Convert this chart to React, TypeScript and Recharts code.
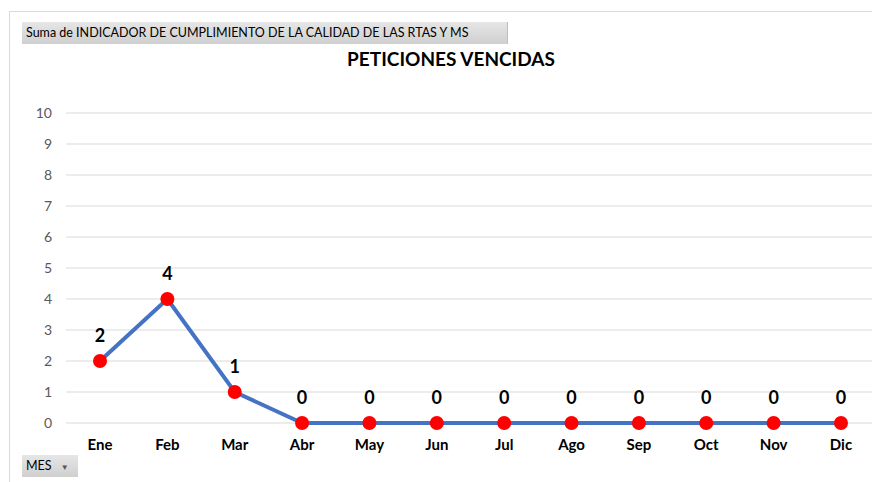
import React from 'react';
import { LineChart, Line, XAxis, YAxis, CartesianGrid, LabelList } from 'recharts';

// months shown on the axis
const meses = ['Ene', 'Feb', 'Mar', 'Abr', 'May', 'Jun', 'Jul', 'Ago', 'Sep', 'Oct', 'Nov', 'Dic'];
// peticiones vencidas per month
const vencidas = [2, 4, 1, 0, 0, 0, 0, 0, 0, 0, 0, 0];
const yTicks = [0, 1, 2, 3, 4, 5, 6, 7, 8, 9, 10];

const data = meses.map((mes, i) => ({ mes, valor: vencidas[i] }));

const font = 'Lato, "Open Sans", sans-serif';

const App = () => {
  return (
    <div style={{ position: 'fixed', left: 0, top: 0, width: 872, height: 482, overflow: 'hidden', background: '#fff', fontFamily: font }}>
      {/* outer frame */}
      <div style={{ position: 'absolute', left: 9, top: 11, width: 900, height: 500, borderLeft: '1px solid #d9d9d9', borderTop: '1px solid #d9d9d9' }} />

      <LineChart width={880} height={482} data={data} margin={{ top: 113, right: 5, left: 26, bottom: 29 }} style={{ position: 'absolute', left: 0, top: 0 }}>
        <CartesianGrid vertical={false} stroke="#d9d9d9" strokeWidth={1} />
        <XAxis
          dataKey="mes"
          axisLine={false}
          tickLine={false}
          tickMargin={10}
          height={30}
          padding={{ left: 34, right: 34 }}
          tick={{ fill: '#000', fontSize: 15, fontWeight: 700, fontFamily: font }}
        />
        <YAxis
          width={40}
          domain={[0, 10]}
          ticks={yTicks}
          axisLine={false}
          tickLine={false}
          tickMargin={8}
          tick={{ fill: '#595959', fontSize: 14, fontFamily: font }}
        />
        <Line
          type="linear"
          dataKey="valor"
          stroke="#4472C4"
          strokeWidth={4}
          dot={{ r: 7, fill: '#ff0000', stroke: '#ff0000', strokeWidth: 0 }}
          isAnimationActive={false}
        >
          <LabelList dataKey="valor" position="top" offset={19} fill="#000" fontSize={18} fontWeight={700} fontFamily={font} />
        </Line>
      </LineChart>

      {/* title */}
      <div style={{ position: 'absolute', left: 0, width: 902, top: 47, textAlign: 'center', fontSize: 19, fontWeight: 700, color: '#000' }}>
        PETICIONES VENCIDAS
      </div>

      {/* field button */}
      <div style={{ position: 'absolute', left: 22, top: 22, width: 486, height: 22, background: 'linear-gradient(#e6e6e6, #cfcfcf)', borderRight: '1px solid #bfbfbf', boxSizing: 'border-box', fontSize: 12.5, lineHeight: '22px', paddingLeft: 4, color: '#000', whiteSpace: 'nowrap' }}>
        Suma de INDICADOR DE CUMPLIMIENTO DE LA CALIDAD DE LAS RTAS Y MS
      </div>

      {/* axis field button */}
      <div style={{ position: 'absolute', left: 22, top: 455, width: 56, height: 22, background: 'linear-gradient(#e6e6e6, #cfcfcf)', boxSizing: 'border-box', fontSize: 12.5, lineHeight: '22px', paddingLeft: 4, color: '#000' }}>
        MES <span style={{ fontSize: 8, marginLeft: 6, color: '#555' }}>▼</span>
      </div>
    </div>
  );
};

export default App;
